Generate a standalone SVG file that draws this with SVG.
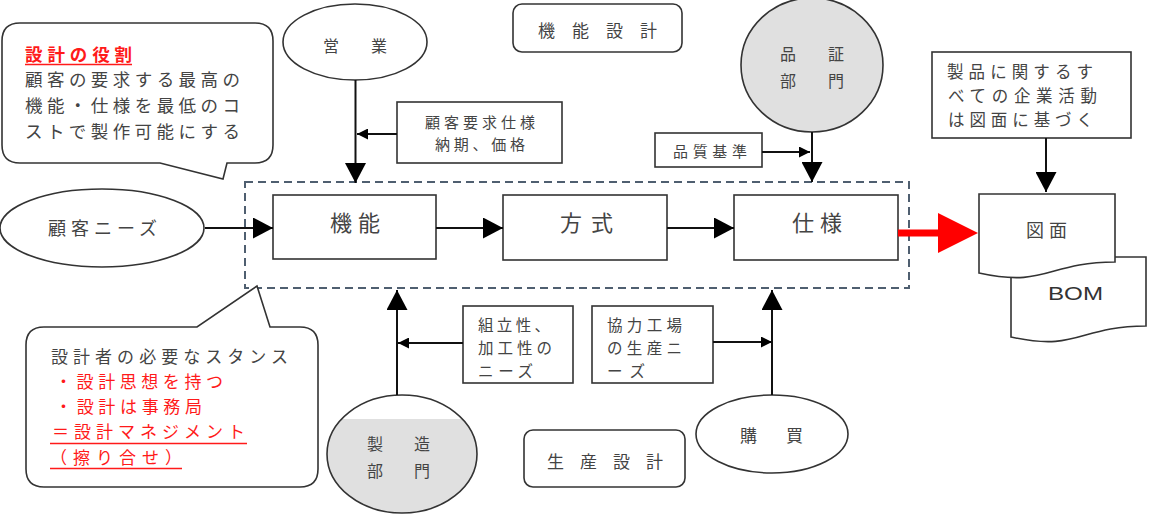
<svg xmlns="http://www.w3.org/2000/svg" width="1150" height="516" viewBox="0 0 1150 516">
<defs>
<style>
.shape{fill:#fff;stroke:#333;stroke-width:1.6}
.gray{fill:#e0e0e0;stroke:#333;stroke-width:1.6}
.t{font-family:"Noto Sans CJK JP","Noto Sans CJK SC",sans-serif;fill:#444}
.red{fill:#ff1a1a}
.conn{stroke:#111;stroke-width:2;fill:none}
.uline{stroke:#ff1a1a;stroke-width:1.6}
.dash{fill:none;stroke:#4f5f70;stroke-width:2;stroke-dasharray:8 5}
</style>
<marker id="ah" viewBox="0 0 20 21" refX="20" refY="10.5" markerWidth="20" markerHeight="21" markerUnits="userSpaceOnUse" orient="auto"><path d="M0,0 L20,10.5 L0,21 Z" fill="#000"/></marker>
<marker id="ahs" viewBox="0 0 11 11" refX="11" refY="5.5" markerWidth="11" markerHeight="11" markerUnits="userSpaceOnUse" orient="auto"><path d="M0,0 L11,5.5 L0,11 Z" fill="#000"/></marker>
<clipPath id="clipMfg"><ellipse cx="402" cy="454" rx="75" ry="59"/></clipPath>
</defs>
<rect x="0" y="0" width="1150" height="516" fill="#fff"/>

<g id="design-area">
<rect class="dash" x="245" y="182" width="664" height="106"/>
</g>

<g id="callout-role">
<path class="shape" d="M20,23 H255 Q273,23 273,41 V145 Q273,163 255,163 H227 L223,179 L160,163 H20 Q2,163 2,145 V41 Q2,23 20,23 Z"/>
<text class="t" font-size="17.5"><tspan class="red" x="25" y="61" font-weight="bold" textLength="107">設計の役割</tspan><tspan x="25" y="86" textLength="215">顧客の要求する最高の</tspan><tspan x="25" y="112" textLength="215">機能・仕様を最低のコ</tspan><tspan x="25" y="138" textLength="215">ストで製作可能にする</tspan></text>
<line class="uline" x1="25" y1="64.5" x2="132" y2="64.5"/>
</g>

<g id="sales">
<ellipse class="shape" cx="355" cy="42" rx="72" ry="38"/>
<text class="t" x="323" y="52" font-size="16" textLength="64">営　業</text>
</g>

<g id="functional-design">
<rect class="shape" x="513" y="4" width="169" height="48" rx="9"/>
<text class="t" x="538" y="37" font-size="17" textLength="119">機能設計</text>
</g>

<g id="qa-dept">
<ellipse class="gray" cx="812" cy="65" rx="71" ry="67"/>
<text class="t" font-size="16"><tspan x="780" y="60" textLength="64">品　証</tspan><tspan x="780" y="87" textLength="64">部　門</tspan></text>
</g>

<g id="customer-spec">
<rect class="shape" x="397" y="102" width="165" height="61"/>
<text class="t" font-size="15"><tspan x="425" y="128" textLength="110">顧客要求仕様</tspan><tspan x="435" y="150" textLength="90">納期、価格</tspan></text>
</g>

<g id="quality-std">
<rect class="shape" x="655" y="133" width="107" height="34"/>
<text class="t" x="673" y="157" font-size="15" textLength="74">品質基準</text>
</g>

<g id="note-drawing">
<rect class="shape" x="932" y="52" width="199" height="86"/>
<text class="t" font-size="16.5"><tspan x="947" y="78" textLength="146">製品に関するす</tspan><tspan x="948" y="102" textLength="149">べての企業活動</tspan><tspan x="948" y="126" textLength="145">は図面に基づく</tspan></text>
</g>

<g id="customer-needs">
<ellipse class="shape" cx="102" cy="228" rx="102" ry="39"/>
<text class="t" x="48" y="235" font-size="18" textLength="109">顧客ニーズ</text>
</g>

<g id="function">
<rect class="shape" x="273" y="195" width="163" height="64"/>
<text class="t" x="330" y="231" font-size="22" textLength="50">機能</text>
</g>

<g id="method">
<rect class="shape" x="503" y="195" width="164" height="65"/>
<text class="t" x="560" y="231" font-size="22" textLength="53">方式</text>
</g>

<g id="spec">
<rect class="shape" x="734" y="195" width="164" height="65"/>
<text class="t" x="792" y="231" font-size="22" textLength="50">仕様</text>
</g>

<g id="bom">
<path class="shape" d="M1011,257 H1146 V326 C1078.5,326 1078.5,352 1011,337 Z"/>
<text x="1048" y="300" font-family="Liberation Sans, Arial, sans-serif" font-size="18.5" fill="#333" textLength="55" lengthAdjust="spacingAndGlyphs">BOM</text>
</g>

<g id="drawing">
<path class="shape" d="M979,194 H1115 V262 C1047,262 1047,288 979,273 Z"/>
<text class="t" x="1026" y="237" font-size="18" textLength="41">図面</text>
</g>

<g id="callout-stance">
<path class="shape" d="M44,327 H197 L257,286 L270,327 H300 Q318,327 318,345 V469 Q318,487 300,487 H44 Q26,487 26,469 V345 Q26,327 44,327 Z"/>
<text class="t" font-size="17"><tspan x="51" y="363" textLength="237">設計者の必要なスタンス</tspan><tspan class="red" x="55" y="388" textLength="168">・設計思想を持つ</tspan><tspan class="red" x="55" y="413" textLength="147">・設計は事務局</tspan><tspan class="red" x="52" y="438" textLength="193">＝設計マネジメント</tspan><tspan class="red" x="50" y="464" textLength="132">（擦り合せ）</tspan></text>
<line class="uline" x1="50" y1="443.5" x2="247" y2="443.5"/>
<line class="uline" x1="50" y1="468.5" x2="182" y2="468.5"/>
</g>

<g id="assembly-needs">
<rect class="shape" x="463" y="306" width="110" height="77"/>
<text class="t" font-size="15.5"><tspan x="478" y="331" textLength="72">組立性、</tspan><tspan x="478" y="354" textLength="74">加工性の</tspan><tspan x="478" y="377" textLength="55">ニーズ</tspan></text>
</g>

<g id="partner-needs">
<rect class="shape" x="592" y="306" width="121" height="77"/>
<text class="t" font-size="15.5"><tspan x="607" y="331" textLength="75">協力工場</tspan><tspan x="607" y="354" textLength="75">の生産ニ</tspan><tspan x="607" y="377" textLength="38">ーズ</tspan></text>
</g>

<g id="manufacturing">
<ellipse cx="402" cy="454" rx="75" ry="59" fill="#fff"/>
<rect x="320" y="419" width="170" height="100" fill="#e0e0e0" clip-path="url(#clipMfg)"/>
<ellipse cx="402" cy="454" rx="75" ry="59" fill="none" stroke="#333" stroke-width="1.6"/>
<text class="t" font-size="16"><tspan x="367" y="450" textLength="63">製　造</tspan><tspan x="367" y="477" textLength="63">部　門</tspan></text>
</g>

<g id="production-design">
<rect class="shape" x="524" y="430" width="161" height="57" rx="9"/>
<text class="t" x="547" y="468" font-size="17" textLength="116">生産設計</text>
</g>

<g id="purchasing">
<ellipse class="shape" cx="772" cy="434" rx="76" ry="39"/>
<text class="t" x="740" y="442" font-size="17" textLength="63">購　買</text>
</g>

<g id="connectors">
<path class="conn" d="M355.5,80 V183" marker-end="url(#ah)"/>
<path class="conn" d="M397,134 H357" marker-end="url(#ahs)"/>
<path class="conn" d="M812,132 V182" marker-end="url(#ah)"/>
<path class="conn" d="M762,152 H810" marker-end="url(#ahs)"/>
<path class="conn" d="M1046,138 V192" marker-end="url(#ah)"/>
<path class="conn" d="M205,228 H273" marker-end="url(#ah)"/>
<path class="conn" d="M436,228 H503" marker-end="url(#ah)"/>
<path class="conn" d="M667,228 H734" marker-end="url(#ah)"/>
<path class="conn" d="M397,395 V290" marker-end="url(#ah)"/>
<path class="conn" d="M463,343 H398" marker-end="url(#ahs)"/>
<path class="conn" d="M772,395 V290" marker-end="url(#ah)"/>
<path class="conn" d="M713,342 H772" marker-end="url(#ahs)"/>
<rect x="898" y="229.5" width="42" height="7" fill="#ff0000"/>
<polygon points="938,213 978,233 938,253" fill="#ff0000"/>
</g>
</svg>
